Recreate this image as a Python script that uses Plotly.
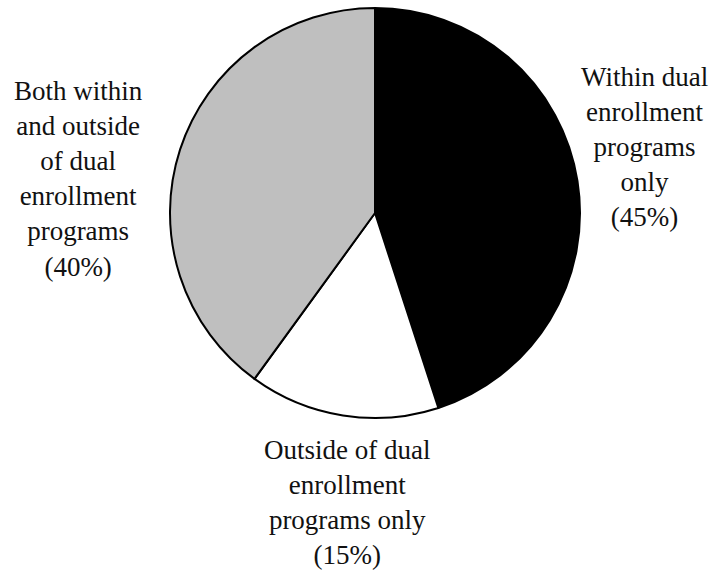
import plotly.graph_objects as go

# Share of respondents by where the activity takes place
labels = [
    "Within dual enrollment programs only",
    "Outside of dual enrollment programs only",
    "Both within and outside of dual enrollment programs",
]
values = [45, 15, 40]
colors = ["#000000", "#ffffff", "#bfbfbf"]

# Wrapped callout texts and their anchor points (pixel coords from top-left)
callouts = [
    "Within dual<br>enrollment<br>programs<br>only<br>(45%)",
    "Outside of dual<br>enrollment<br>programs only<br>(15%)",
    "Both within<br>and outside<br>of dual<br>enrollment<br>programs<br>(40%)",
]
callout_x = [644, 347, 78]
callout_y = [147, 502, 179]

W, H = 712, 571
cx, cy, r = 375, 213, 205

fig = go.Figure(
    go.Pie(
        labels=labels,
        values=values,
        sort=False,
        direction="clockwise",
        rotation=0,
        marker=dict(colors=colors, line=dict(color="#000000", width=2)),
        textinfo="none",
        hoverinfo="label+percent",
        showlegend=False,
        domain=dict(
            x=[(cx - r) / W, (cx + r) / W],
            y=[1 - (cy + r) / H, 1 - (cy - r) / H],
        ),
    )
)

for txt, x, y in zip(callouts, callout_x, callout_y):
    fig.add_annotation(
        text=txt,
        x=x / W,
        y=1 - y / H,
        xref="paper",
        yref="paper",
        showarrow=False,
        align="center",
        xanchor="center",
        yanchor="middle",
        font=dict(family="Liberation Serif", size=27, color="#111111"),
    )

fig.update_layout(
    width=W,
    height=H,
    margin=dict(l=0, r=0, t=0, b=0),
    paper_bgcolor="white",
    plot_bgcolor="white",
)

fig.write_html("out.html")
